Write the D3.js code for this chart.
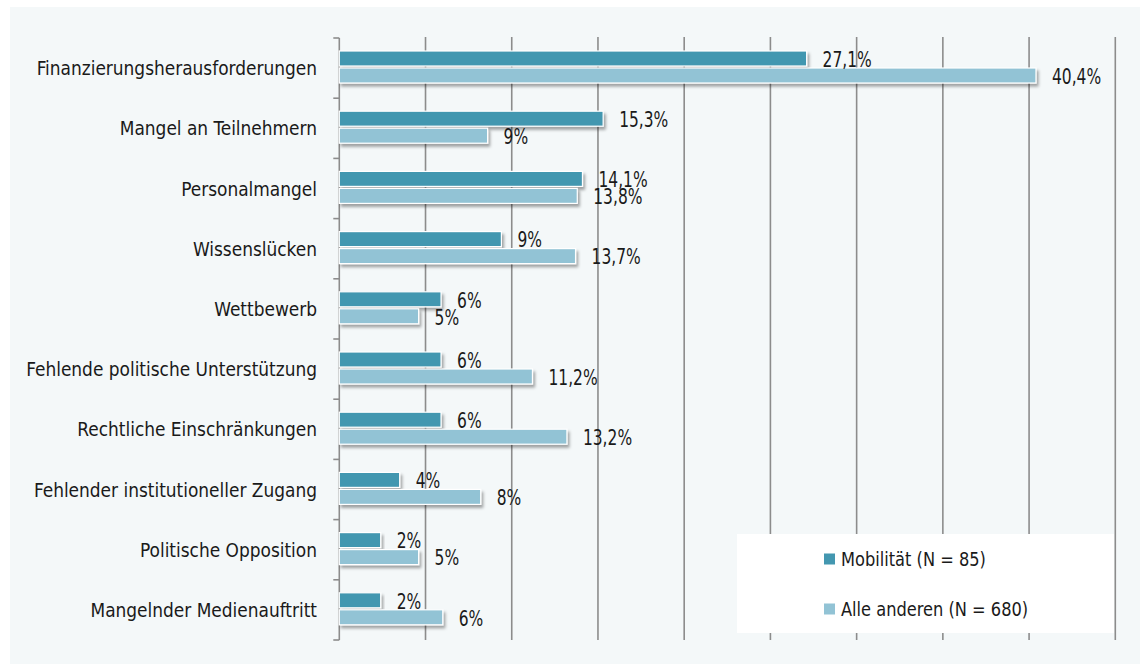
<!DOCTYPE html>
<html>
<head>
<meta charset="utf-8">
<script src="https://cdn.jsdelivr.net/npm/d3@7"></script>
<style>
  html, body { margin: 0; padding: 0; background: #ffffff; }
  svg { display: block; }
  text { font-family: "DejaVu Sans Condensed", "DejaVu Sans", sans-serif; fill: #1a1a1a; }
</style>
</head>
<body>
<svg id="chart" width="1140" height="664"></svg>
<script>
// ---- data ----
const categories = [
  "Finanzierungsherausforderungen",
  "Mangel an Teilnehmern",
  "Personalmangel",
  "Wissenslücken",
  "Wettbewerb",
  "Fehlende politische Unterstützung",
  "Rechtliche Einschränkungen",
  "Fehlender institutioneller Zugang",
  "Politische Opposition",
  "Mangelnder Medienauftritt"
];
const seriesNames = ["Mobilität (N = 85)", "Alle anderen (N = 680)"];
const mobilitaet = [27.1, 15.3, 14.1, 9.4, 5.9, 5.9, 5.9, 3.5, 2.4, 2.4];
const alleAnderen = [40.4, 8.6, 13.8, 13.7, 4.6, 11.2, 13.2, 8.2, 4.6, 6.0];
const mobilitaetLabels = ["27,1%", "15,3%", "14,1%", "9%", "6%", "6%", "6%", "4%", "2%", "2%"];
const alleAnderenLabels = ["40,4%", "9%", "13,8%", "13,7%", "5%", "11,2%", "13,2%", "8%", "5%", "6%"];
const gridTicks = [5, 10, 15, 20, 25, 30, 35, 40, 45];
const colors = ["#4397b0", "#92c3d5"];

// ---- layout ----
const svg = d3.select("#chart");
const W = 1140, H = 664;
const plot = { left: 339.3, right: 1115.3, top: 38, bottom: 640 };

function place(sel, x, y, sx) {
  return sel.attr("transform", `translate(${x},${y}) scale(${sx},1)`);
}

svg.append("rect").attr("x", 10).attr("y", 7).attr("width", W - 10).attr("height", H - 7)
  .attr("fill", "#f4f8f9");

const defs = svg.append("defs");
const f = defs.append("filter").attr("id", "shadow")
  .attr("x", "-5%").attr("y", "-50%").attr("width", "115%").attr("height", "220%");
f.append("feDropShadow").attr("dx", 2).attr("dy", 3).attr("stdDeviation", 1.6)
  .attr("flood-color", "#000").attr("flood-opacity", 0.35);

const x = d3.scaleLinear().domain([0, 45]).range([plot.left, plot.right]);
const y = d3.scaleBand().domain(categories).range([plot.top, plot.bottom]).padding(0);
const yInner = d3.scaleBand().domain([0, 1]).range([13, 45]).paddingInner(2 / 17).paddingOuter(0);

// gridlines
svg.append("g").selectAll("line").data(gridTicks).join("line")
  .attr("x1", d => x(d)).attr("x2", d => x(d))
  .attr("y1", plot.top - 1).attr("y2", plot.bottom)
  .attr("stroke", "#8c8c8c").attr("stroke-width", 1.6);

// left axis
const axisG = svg.append("g");
axisG.append("line").attr("x1", x(0)).attr("x2", x(0)).attr("y1", plot.top).attr("y2", plot.bottom)
  .attr("stroke", "#8c8c8c").attr("stroke-width", 1.6);
const boundaries = categories.map(c => y(c)).concat([plot.bottom]);
axisG.selectAll("line.tick").data(boundaries).join("line").attr("class", "tick")
  .attr("x1", x(0) - 6).attr("x2", x(0)).attr("y1", d => d).attr("y2", d => d)
  .attr("stroke", "#8c8c8c").attr("stroke-width", 1.6);

// category labels
svg.append("g").selectAll("text").data(categories).join("text")
  .each(function (d) { place(d3.select(this), 317, y(d) + y.bandwidth() / 2, 0.945); })
  .attr("dy", "0.35em").attr("text-anchor", "end")
  .attr("font-size", 20).text(d => d);

// bars
const series = [mobilitaet, alleAnderen];
const seriesLabels = [mobilitaetLabels, alleAnderenLabels];
const barsG = svg.append("g");
categories.forEach((c, i) => {
  [0, 1].forEach(s => {
    barsG.append("rect")
      .attr("x", x(0))
      .attr("y", y(c) + yInner(s))
      .attr("width", x(series[s][i]) - x(0))
      .attr("height", yInner.bandwidth())
      .attr("fill", colors[s])
      .attr("stroke", "#ffffff").attr("stroke-width", 1.2)
      .attr("filter", "url(#shadow)");
  });
});
// value labels
const labG = svg.append("g");
categories.forEach((c, i) => {
  [0, 1].forEach(s => {
    const t = labG.append("text")
      .attr("dy", "0.35em")
      .attr("font-size", 21)
      .text(seriesLabels[s][i]);
    place(t, x(series[s][i]) + 16, y(c) + yInner(s) + yInner.bandwidth() / 2 + 1, 0.82);
  });
});

// legend
const lg = svg.append("g");
lg.append("rect").attr("x", 737).attr("y", 534).attr("width", 377).attr("height", 99).attr("fill", "#ffffff");
seriesNames.forEach((n, k) => {
  const cy = 559 + k * 50;
  lg.append("rect").attr("x", 824).attr("y", cy - 5.5).attr("width", 11).attr("height", 11).attr("fill", colors[k]);
  const t = lg.append("text").attr("dy", "0.35em").attr("font-size", 19).text(n);
  place(t, 841, cy, 0.95);
});
</script>
</body>
</html>
